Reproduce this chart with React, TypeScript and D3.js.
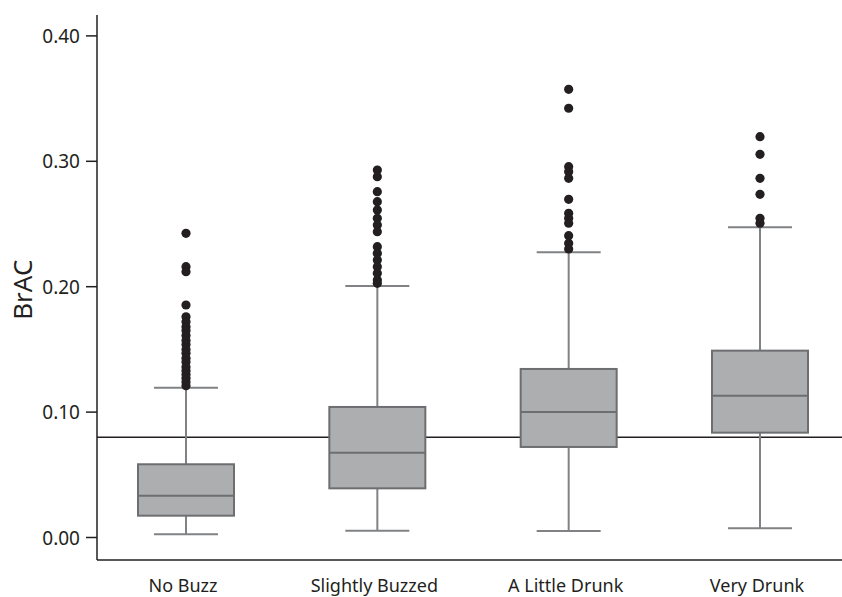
import React from 'react';
import * as d3 from 'd3';

// categories and five-number summaries
const categories = ['No Buzz', 'Slightly Buzzed', 'A Little Drunk', 'Very Drunk'];
const lowWhisker = [0.0026, 0.0054, 0.0052, 0.0073];
const q1 = [0.0174, 0.0392, 0.0722, 0.0836];
const median = [0.0333, 0.0676, 0.1001, 0.1131];
const q3 = [0.0584, 0.1041, 0.1344, 0.149];
const highWhisker = [0.1195, 0.2006, 0.2274, 0.2474];

const outliersNoBuzz = [0.2426, 0.216, 0.212, 0.1854, 0.176, 0.172, 0.168, 0.165, 0.161, 0.157, 0.154, 0.15, 0.147, 0.143, 0.14, 0.136, 0.133, 0.13, 0.127, 0.124, 0.121];
const outliersSlightly = [0.293, 0.2877, 0.2758, 0.2678, 0.2612, 0.2545, 0.2492, 0.2439, 0.2319, 0.2266, 0.2213, 0.216, 0.2107, 0.2053, 0.2027];
const outliersLittle = [0.3574, 0.3423, 0.2957, 0.2917, 0.2864, 0.2697, 0.2585, 0.2545, 0.2506, 0.2407, 0.2346, 0.2301];
const outliersVery = [0.3196, 0.3056, 0.2864, 0.2737, 0.2545, 0.2506];
const outliers = [outliersNoBuzz, outliersSlightly, outliersLittle, outliersVery];

const yTicks = [0, 0.1, 0.2, 0.3, 0.4];
const limit = 0.08;

const W = 842;
const H = 597;
const axisX = 97;
const axisY = 560;

const ink = '#231f20';
const boxFill = '#adaeb0';
const boxStroke = '#6d6e71';
const whiskerStroke = '#808285';
const font = '"Noto Sans", "Open Sans", sans-serif';

export default function App() {
  const x = d3.scalePoint<string>().domain(categories).range([186, 760]);
  const y = d3.scaleLinear().domain([0, 0.4]).range([537.5, 35.9]);
  const fmt = d3.format('.2f');
  const boxW = 96;
  const capW = 64;

  return (
    <svg width={W} height={H} style={{ position: 'absolute', left: 0, top: 0, background: '#fff' }}>
      {/* axes */}
      <line x1={axisX} x2={axisX} y1={15} y2={axisY} stroke={ink} strokeWidth={1.5} />
      <line x1={axisX} x2={W} y1={axisY} y2={axisY} stroke={ink} strokeWidth={1.5} />
      {yTicks.map((t) => (
        <g key={t}>
          <line x1={86} x2={axisX} y1={y(t)} y2={y(t)} stroke={ink} strokeWidth={1.5} />
          <text x={80} y={y(t)} textAnchor="end" dominantBaseline="central" fontFamily={font} fontSize={19} fill={ink}>
            {fmt(t)}
          </text>
        </g>
      ))}
      <text transform={`translate(32,${y(0.2) + 3}) rotate(-90)`} textAnchor="middle" fontFamily={font} fontSize={26} fill={ink}>
        BrAC
      </text>

      {/* 0.08 limit line */}
      <line x1={axisX} x2={W} y1={y(limit)} y2={y(limit)} stroke={ink} strokeWidth={1.5} />

      {categories.map((c, i) => {
        const cx = x(c) as number;
        return (
          <g key={c}>
            <line x1={cx} x2={cx} y1={y(highWhisker[i])} y2={y(q3[i])} stroke={whiskerStroke} strokeWidth={2} />
            <line x1={cx} x2={cx} y1={y(q1[i])} y2={y(lowWhisker[i])} stroke={whiskerStroke} strokeWidth={2} />
            <line x1={cx - capW / 2} x2={cx + capW / 2} y1={y(highWhisker[i])} y2={y(highWhisker[i])} stroke={whiskerStroke} strokeWidth={2} />
            <line x1={cx - capW / 2} x2={cx + capW / 2} y1={y(lowWhisker[i])} y2={y(lowWhisker[i])} stroke={whiskerStroke} strokeWidth={2} />
            <rect x={cx - boxW / 2} y={y(q3[i])} width={boxW} height={y(q1[i]) - y(q3[i])} fill={boxFill} stroke={boxStroke} strokeWidth={2} />
            <line x1={cx - boxW / 2} x2={cx + boxW / 2} y1={y(median[i])} y2={y(median[i])} stroke={boxStroke} strokeWidth={2} />
            {outliers[i].map((v, j) => (
              <circle key={j} cx={cx} cy={y(v)} r={4.6} fill={ink} />
            ))}
            <text x={cx - 3} y={592} textAnchor="middle" fontFamily={font} fontSize={18} fill={ink}>
              {c}
            </text>
          </g>
        );
      })}
    </svg>
  );
}
